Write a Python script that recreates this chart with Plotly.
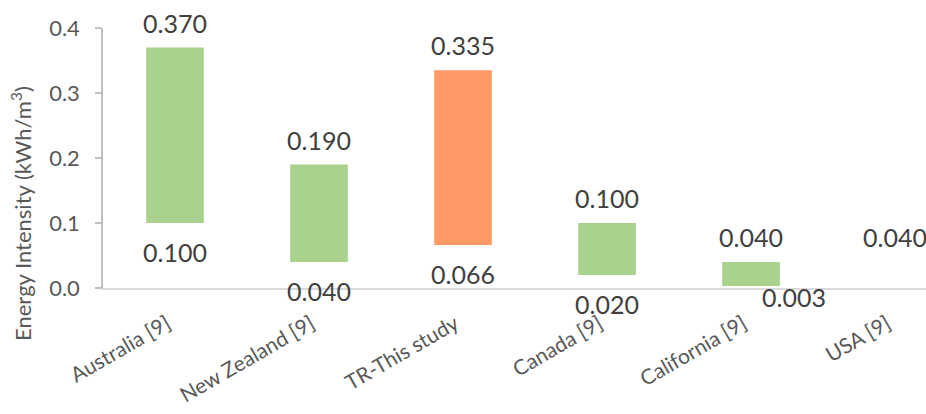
import plotly.graph_objects as go

# Energy intensity ranges (kWh/m³) by region
regions = ["Australia [9]", "New Zealand [9]", "TR-This study", "Canada [9]", "California [9]", "USA [9]"]
low_values = [0.100, 0.040, 0.066, 0.020, 0.003, 0.040]
high_values = [0.370, 0.190, 0.335, 0.100, 0.040, 0.040]
show_low_label = [True, True, True, True, True, False]
bar_colors = ["#A9D18E", "#A9D18E", "#FF9966", "#A9D18E", "#A9D18E", "#A9D18E"]
y_ticks = [0.0, 0.1, 0.2, 0.3, 0.4]

FONT = "Lato, 'Open Sans', sans-serif"
TEXT = "#404040"
GRAY = "#595959"

fig = go.Figure()
fig.add_trace(go.Bar(
    x=regions,
    base=low_values,
    y=[h - l for h, l in zip(high_values, low_values)],
    marker=dict(color=bar_colors, line=dict(width=0)),
    width=0.40,
    hoverinfo="skip",
))

annotations = []
for i, (name, lo, hi) in enumerate(zip(regions, low_values, high_values)):
    annotations.append(dict(x=name, y=hi, text=f"{hi:.3f}", showarrow=False,
                            yshift=25, font=dict(size=25, color=TEXT, family=FONT)))
    if show_low_label[i]:
        # the smallest range sits right on the axis, so its lower label is nudged aside
        if hi - lo < 0.05:
            xs, ys = 43, -11
        else:
            xs, ys = 0, -29
        annotations.append(dict(x=name, y=lo, text=f"{lo:.3f}", showarrow=False,
                                xshift=xs, yshift=ys,
                                font=dict(size=25, color=TEXT, family=FONT)))

# vertical axis title, placed a little below the middle of the axis
annotations.append(dict(
    xref="paper", yref="paper", x=-0.0984, y=0.285,
    xanchor="center", yanchor="middle", textangle=-90, showarrow=False,
    text="Energy Intensity (kWh/m<sup>3</sup>)",
    font=dict(size=22, color=GRAY, family=FONT),
))

fig.update_layout(
    width=926, height=414,
    margin=dict(l=103, r=0, t=28, b=126),
    paper_bgcolor="white", plot_bgcolor="white",
    showlegend=False,
    annotations=annotations,
    font=dict(family=FONT, color=GRAY),
    xaxis=dict(
        type="category",
        range=[-0.5, 5.215],
        tickangle=-30,
        tickfont=dict(size=21, color=GRAY, family=FONT),
        ticklabelstandoff=14,
        ticklabelshift=-8,
        showline=True, linecolor="#D9D9D9", linewidth=1.5,
        showgrid=False, ticks="", zeroline=False,
    ),
    yaxis=dict(
        range=[0, 0.4],
        tickvals=y_ticks,
        ticktext=[f"{v:.1f}" for v in y_ticks],
        tickfont=dict(size=22, color=GRAY, family=FONT),
        ticklabelstandoff=11,
        showline=True, linecolor="#BFBFBF", linewidth=1.5,
        ticks="outside", ticklen=6, tickcolor="#BFBFBF", tickwidth=1.5,
        showgrid=False, zeroline=False,
    ),
)

fig.write_html("out.html")
